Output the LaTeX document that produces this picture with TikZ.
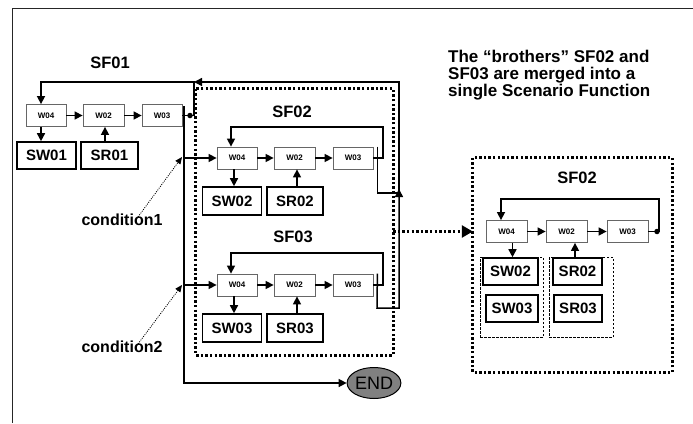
\documentclass[tikz,border=0pt]{standalone}
\usepackage{fontspec}
\setmainfont{Liberation Sans}
\usetikzlibrary{arrows.meta,shapes.geometric}
\begin{document}
\begin{tikzpicture}[x=1pt,y=-1pt,
  wbox/.style={draw=black!60,line width=0.8pt,minimum width=40pt,minimum height=22pt,inner sep=0pt,font=\fontsize{8}{8}\selectfont\bfseries},
  sbox/.style={draw,line width=1.6pt,minimum height=27pt,inner sep=0pt,font=\fontsize{15}{15}\selectfont\bfseries},
  sflbl/.style={font=\fontsize{16.5}{16.5}\selectfont\bfseries,inner sep=0pt},
  condlbl/.style={font=\fontsize{16}{16}\selectfont\bfseries,inner sep=0pt},
  conn/.style={line width=1.5pt},
  arr/.style={line width=1.5pt,-{Triangle[length=8pt,width=8pt]}},
  areabox/.style={inner sep=0pt},
  dotline/.style={line width=2.7pt,dash pattern=on 2.4pt off 2.2pt},
  dashbox/.style={draw,line width=0.7pt,dash pattern=on 2.5pt off 1.5pt},
  condarr/.style={line width=0.8pt,dash pattern=on 1pt off 1.2pt,-{Triangle[length=7pt,width=6pt]}},
  bigarr/.style={line width=2.6pt,dash pattern=on 2.4pt off 2.2pt,-{Triangle[length=11pt,width=12pt]}},
  enddot/.style={circle,fill,inner sep=0pt,minimum size=5.5pt}
]
\useasboundingbox (0,0) rectangle (693,423);
% outer frame
\draw[line width=0.9pt,black!85] (12,423) -- (12,8) -- (693,8);

% ===== SF01 =====
\node[sflbl] (sf01) at (110,63) {SF01};
\node[wbox] (w04a) at (46,115.5) {W04};
\node[wbox,minimum width=41pt] (w02a) at (103.5,115.5) {W02};
\node[wbox] (w03a) at (162,115.5) {W03};
\node[sbox,minimum width=59pt] (sw01) at (46.5,155.5) {SW01};
\node[sbox,minimum width=57pt] (sr01) at (109.5,155.5) {SR01};
\draw[arr] (w04a) -- (w02a);
\draw[arr] (w02a) -- (w03a);
\draw[arr] ([xshift=-5pt]w04a.south) -- ([xshift=-5pt]w04a.south |- sw01.north);
\draw[arr] ([xshift=-4.5pt]sr01.north) -- ([xshift=-4.5pt]sr01.north |- w02a.south);
\coordinate (t1) at (194,82);
\draw[arr] (w03a.east) -- (194,115.5) -- (t1) -| ([xshift=-5pt]w04a.north);
\node[enddot] (d1) at (190,115.5) {};

% ===== big dotted box with SF02 and SF03 =====
\node[areabox,minimum width=197pt,minimum height=266pt] (bigbox) at (294.5,222) {};
\draw[dotline] (bigbox.north west) rectangle (bigbox.south east);

% SF02
\node[sflbl] (sf02) at (292,112) {SF02};
\node[wbox] (w04b) at (237,158) {W04};
\node[wbox,minimum width=41pt] (w02b) at (294.5,158) {W02};
\node[wbox] (w03b) at (353,158) {W03};
\node[sbox,minimum width=59pt,minimum height=28pt] (sw02) at (232,201) {SW02};
\node[sbox,minimum width=56pt,minimum height=28pt] (sr02) at (295,201) {SR02};
\draw[arr] (w04b) -- (w02b);
\draw[arr] (w02b) -- (w03b);
\draw[arr] ([xshift=-3pt]w04b.south) -- ([xshift=-3pt]w04b.south |- sw02.north);
\draw[arr] ([xshift=2pt]sr02.north) -- ([xshift=2pt]sr02.north |- w02b.south);
\draw[arr] (w03b.east) -| (383,127) -| ([xshift=-6pt]w04b.north);

% SF03
\node[sflbl] (sf03) at (293,237) {SF03};
\node[wbox] (w04c) at (237,285) {W04};
\node[wbox,minimum width=41pt] (w02c) at (294.5,285) {W02};
\node[wbox] (w03c) at (353,285) {W03};
\node[sbox,minimum width=59pt,minimum height=28pt] (sw03) at (232,328) {SW03};
\node[sbox,minimum width=56pt,minimum height=28pt] (sr03) at (295,328) {SR03};
\draw[arr] (w04c) -- (w02c);
\draw[arr] (w02c) -- (w03c);
\draw[arr] ([xshift=-3pt]w04c.south) -- ([xshift=-3pt]w04c.south |- sw03.north);
\draw[arr] ([xshift=2pt]sr03.north) -- ([xshift=2pt]sr03.north |- w02c.south);
\draw[arr] (w03c.east) -| (383,253) -| ([xshift=-6pt]w04c.north);

% return paths
\coordinate (jb) at ([xshift=4pt]w03b.north east);
\coordinate (jc) at ([xshift=4pt]w03c.north east);
\coordinate (r1) at (399,193);
\draw[conn] (jb) -- (jb |- r1) -- (r1);
\draw[arr] (jc) -- (377,308) -- (399,308) -- (399,189);
\draw[arr] (r1) -- (399,82) -- (t1);

% exit line, branches and END
\node[ellipse,draw,fill=black!50,line width=1pt,minimum width=50pt,minimum height=31pt,inner sep=0pt,font=\fontsize{18}{18}\selectfont] (end) at (374,383) {END};
\coordinate (x0) at (184,106);
\draw[arr] (x0) -- (184,383) -- (end.west);
\draw[arr] (184,158) -- (w04b.west);
\draw[arr] (184,285) -- (w04c.west);

% conditions
\node[condlbl] (cond1) at (122,220) {condition1};
\node[condlbl] (cond2) at (122,347) {condition2};
\coordinate (c1) at (182,157);
\coordinate (c2) at (182,285);
\draw[condarr] ([xshift=16pt,yshift=-3pt]cond1.north) -- (c1);
\draw[condarr] ([xshift=16pt,yshift=-3pt]cond2.north) -- (c2);

% ===== right side =====
\node[anchor=north west,align=left,inner sep=0pt,font=\fontsize{17}{17}\selectfont\bfseries] (note) at (448,50) {The “brothers” SF02 and\\SF03 are merged into a\\single Scenario Function};

\node[areabox,minimum width=199pt,minimum height=214pt] (rbox) at (572.5,265) {};
\draw[dotline] (rbox.north west) rectangle (rbox.south east);
\node[sflbl] (sf02r) at (577,178) {SF02};
\node[wbox,minimum width=41pt] (w04r) at (506.5,231.5) {W04};
\node[wbox,minimum width=41pt] (w02r) at (566.5,231.5) {W02};
\node[wbox,minimum width=41pt] (w03r) at (627.5,231.5) {W03};
\node[dashbox,minimum width=63pt,minimum height=80pt,inner sep=0pt] (dl) at (511.5,297) {};
\node[dashbox,minimum width=64pt,minimum height=80pt,inner sep=0pt] (dr) at (581,297) {};
\node[sbox,minimum width=55pt] (sw02r) at (510.5,271.5) {SW02};
\node[sbox,minimum width=52pt] (sw03r) at (512,308.5) {SW03};
\node[sbox,minimum width=49pt] (sr02r) at (577.5,271.5) {SR02};
\node[sbox,minimum width=48pt] (sr03r) at (578,308.5) {SR03};
\draw[arr] (w04r) -- (w02r);
\draw[arr] (w02r) -- (w03r);
\draw[arr] ([xshift=6pt]w04r.south) -- ([xshift=6pt]w04r.south |- sw02r.north);
\draw[arr] ([xshift=-2.5pt]sr02r.north) -- ([xshift=-2.5pt]sr02r.north |- w02r.south);
\draw[arr] (w03r.east) -- (659,231.5) -- (659,199) -| ([xshift=-5.5pt]w04r.north);
\node[enddot] (d2) at (657,231.5) {};

% merge arrow
\draw[bigarr] (bigbox.east |- w04r.west) -- (rbox.west |- w04r.west);
\end{tikzpicture}
\end{document}
